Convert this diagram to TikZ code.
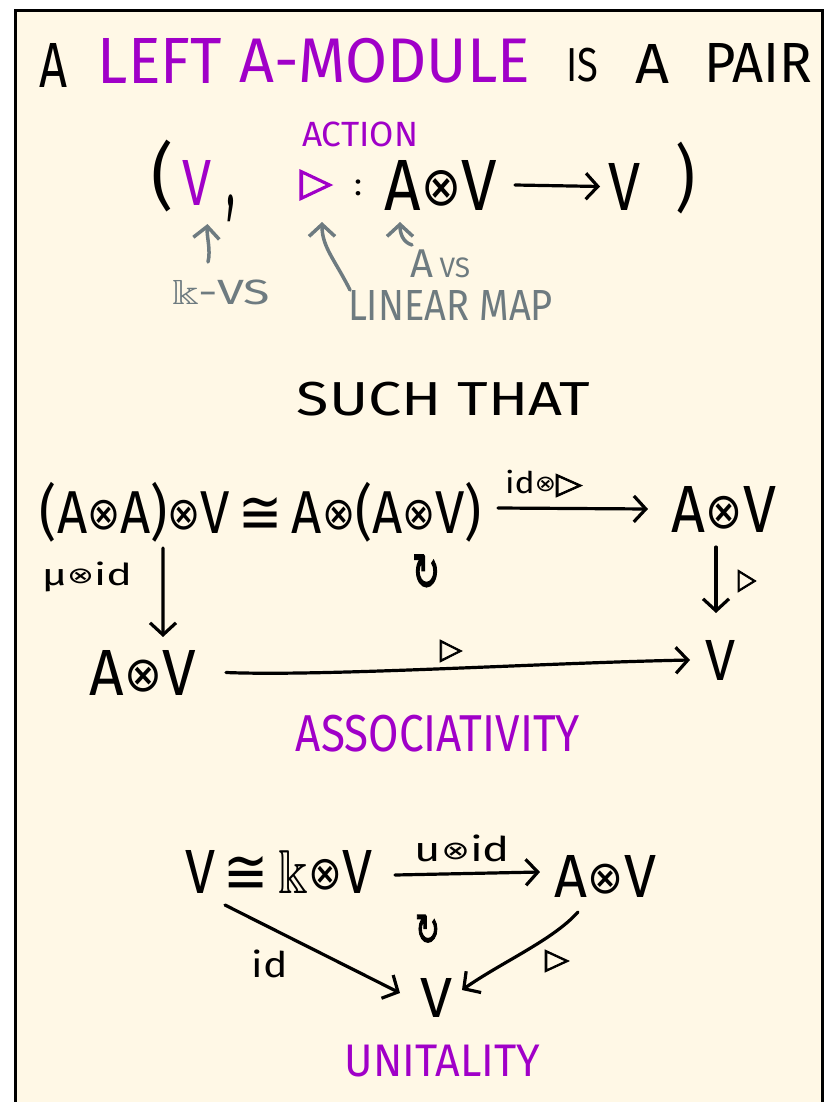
\documentclass[tikz,border=0pt]{standalone}
\usepackage{amssymb}
\usepackage{fontspec}
\setmainfont{Fira Sans}
\newfontfamily\symfont{DejaVu Sans}
\newfontfamily\symfontb{DejaVu Sans}[FakeBold=3]
\usetikzlibrary{arrows.meta}
\definecolor{cream}{RGB}{255,248,230}
\definecolor{purp}{RGB}{160,0,200}
\definecolor{slate}{RGB}{110,123,128}
\newcommand{\fitbox}[3]{\resizebox*{#1pt}{#2pt}{#3}}
\newcommand{\symot}{\raisebox{0.06em}{\scalebox{0.75}{\symfont ⊗}}}
\newcommand{\symiso}{{\symfont ≅}}
\newcommand{\symtri}{{\symfontb ▷}}
\newcommand{\symcirc}{{\symfontb ↻}}
\tikzset{
  txt/.style={inner sep=0pt, outer sep=0pt, text=black},
  ptxt/.style={txt, text=purp},
  gtxt/.style={txt, text=slate},
  arr/.style={line width=3.2pt, line cap=round, line join=round, draw=black,
    -{Straight Barb[length=12pt,width=26pt]}},
  garr/.style={arr, draw=slate, line width=3.5pt}
}
\begin{document}
\begin{tikzpicture}[x=1pt,y=-1pt]
\useasboundingbox (0,0) rectangle (829,1102);
\fill[white] (0,0) rectangle (829,1102);
\fill[cream] (15,11) rectangle (822,1102);
\draw[line width=3pt] (15,1102) -- (15,11) -- (822,11) -- (822,1102);

% title
\node[txt] (tA) at (54,65) {\fitbox{28}{44}{A}};
\node[ptxt] (tLeft) at (160,60.5) {\fitbox{124}{45}{LEFT}};
\node[ptxt] (tMod) at (385,60.5) {\fitbox{290}{45}{A-MODULE}};
\node[txt] (tIs) at (582,65) {\fitbox{32}{34}{IS}};
\node[txt] (tA2) at (653,63.5) {\fitbox{34}{39}{A}};
\node[txt] (tPair) at (758,62.5) {\fitbox{108}{39}{PAIR}};

% pair
\node[ptxt] (action) at (360,134.5) {\fitbox{116}{25}{ACTION}};
\node[txt] (lp) at (163,176) {\fitbox{22}{72}{(}};
\node[ptxt] (v1) at (197.5,182.5) {\fitbox{29}{45}{V}};
\node[txt] (comma) at (231,208.5) {\fitbox{9}{27}{,}};
\node[ptxt] (tri) at (316,185) {\fitbox{32}{30}{\symtri}};
\node[txt] (colon) at (358,188) {\fitbox{8}{16}{:}};
\node[txt] (av0) at (441,185) {\fitbox{112}{50}{A\symot V}};
\node[txt] (v0) at (624,186.5) {\fitbox{32}{47}{V}};
\node[txt] (rp) at (685,178) {\fitbox{20}{72}{)}};
\draw[arr] ([xshift=18pt]av0.east) -- ([xshift=-8pt]v0.west);

% annotations
\node[gtxt] (kvs) at (221,292.5) {\fitbox{98}{25}{$\Bbbk$-VS}};
\node[gtxt] (lin) at (450.5,305) {\fitbox{205}{30}{LINEAR MAP}};
\node[gtxt] (avs) at (440,264) {\fitbox{60}{28}{A\,\scalebox{0.7}{VS}}};
\draw[garr] ([xshift=-13pt,yshift=18pt]kvs.north) .. controls +(3,-12) and +(-1,12) .. ([xshift=10pt,yshift=-19pt]v1.south);
\draw[garr] ([xshift=2pt]lin.north west) .. controls +(-15,-30) and +(0,25) .. ([xshift=6pt,yshift=-22pt]tri.south);
\draw[garr] ([xshift=2pt,yshift=5pt]avs.north west) .. controls +(-10,-3) and +(0,10) .. ([xshift=15pt,yshift=-12pt]av0.south west);

% such that
\node[txt] (such) at (443.5,399) {\fitbox{293}{34}{SUCH THAT}};

% associativity
\node[txt] (aa) at (261,512) {\fitbox{442}{60}{(A\symot A)\symot V\,\symiso\,A\symot(A\symot V)}};
\node[txt] (idtri) at (543.5,483.5) {\fitbox{77}{27}{id\symot\symtri}};
\node[txt] (av1) at (724,509) {\fitbox{104}{46}{A\symot V}};
\node[txt] (mu) at (87,577) {\fitbox{90}{30}{μ\symot id}};
\node[txt] (circ1) at (426,572.5) {\fitbox{28}{35}{\symcirc}};
\node[txt] (av2) at (143,672.5) {\fitbox{106}{45}{A\symot V}};
\node[txt] (tri2) at (747,581) {\fitbox{18}{22}{\symtri}};
\node[txt] (v2) at (720,660) {\fitbox{30}{40}{V}};
\node[txt] (tri3) at (451,651) {\fitbox{22}{22}{\symtri}};
\node[ptxt] (assoc) at (438,733.5) {\fitbox{284}{37}{ASSOCIATIVITY}};
\draw[arr] ([xshift=16pt,yshift=4pt]aa.east) -- ([xshift=-24pt]av1.west);
\draw[arr] ([xshift=123pt,yshift=-6pt]aa.south west) -- ([xshift=20pt,yshift=13pt]av2.north);
\draw[arr] ([xshift=-8pt,yshift=-15pt]av1.south) -- ([xshift=-4pt,yshift=27pt]v2.north);
\draw[arr] ([xshift=30pt]av2.east) .. controls +(100,4) and +(-150,3) .. ([xshift=-15pt]v2.west);

% unitality
\node[txt] (vk) at (278.5,871.5) {\fitbox{187}{43}{V\,\symiso\,$\Bbbk$\symot V}};
\node[txt] (uid) at (462.5,848.5) {\fitbox{95}{27}{u\symot id}};
\node[txt] (av3) at (605.5,876) {\fitbox{101}{42}{A\symot V}};
\node[txt] (circ2) at (427.5,930) {\fitbox{25}{30}{\symcirc}};
\node[txt] (v3) at (436,997.5) {\fitbox{32}{39}{V}};
\node[txt] (idl) at (270,964) {\fitbox{36}{28}{id}};
\node[txt] (tri4) at (557,961) {\fitbox{24}{22}{\symtri}};
\node[ptxt] (unit) at (442.5,1061) {\fitbox{195}{32}{UNITALITY}};
\draw[arr] ([xshift=23pt,yshift=-3.5pt]vk.east) -- ([xshift=-15pt,yshift=4pt]av3.west);
\draw[arr] ([xshift=40pt,yshift=-12pt]vk.south west) -- ([xshift=-20pt,yshift=4.5pt]v3.west);
\draw[arr] ([xshift=-27.5pt,yshift=-15pt]av3.south) .. controls +(-25,28) and +(40,-28) .. ([xshift=10pt,yshift=7.5pt]v3.east);
\end{tikzpicture}
\end{document}
